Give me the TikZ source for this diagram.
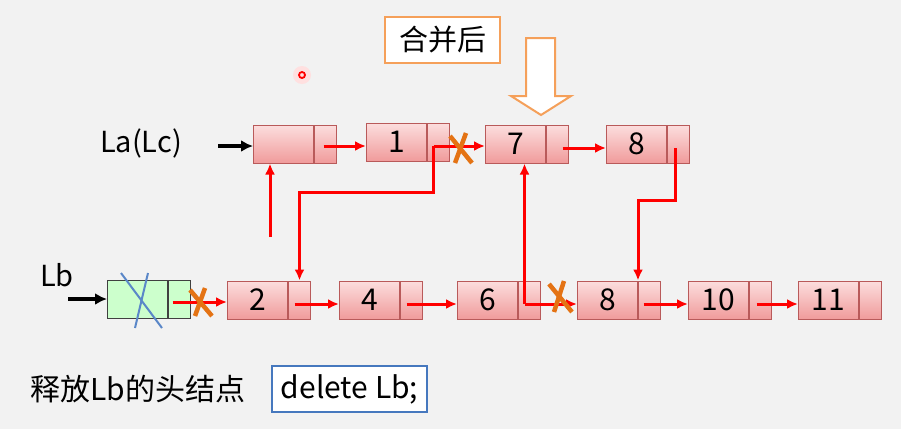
\documentclass[tikz,border=0pt]{standalone}
\usepackage{fontspec}
\setmainfont{Noto Sans CJK SC}
\usetikzlibrary{arrows.meta,calc}
\definecolor{bg}{RGB}{242,242,242}
\definecolor{nodetop}{RGB}{252,222,222}
\definecolor{nodebot}{RGB}{240,155,155}
\definecolor{nodeedge}{RGB}{185,90,90}
\definecolor{greenfill}{RGB}{204,255,204}
\definecolor{crossorange}{RGB}{228,115,20}
\definecolor{boxorange}{RGB}{245,160,90}
\definecolor{boxblue}{RGB}{70,120,190}
\definecolor{xblue}{RGB}{90,135,200}
\definecolor{linkred}{RGB}{255,0,0}
\tikzset{
  lbl/.style={font=\fontsize{29}{31}\selectfont, inner sep=0pt},
  datapart/.style={draw=nodeedge, line width=1pt, top color=nodetop, bottom color=nodebot,
    minimum width=60pt, minimum height=38pt, inner sep=0pt, anchor=west,
    font=\fontsize{30}{32}\selectfont},
  ptrpart/.style={draw=nodeedge, line width=1pt, top color=nodetop, bottom color=nodebot,
    minimum width=22pt, minimum height=38pt, inner sep=0pt, anchor=west},
  gdata/.style={draw=black!75, line width=1pt, fill=greenfill,
    minimum width=60pt, minimum height=38pt, inner sep=0pt, anchor=west},
  gptr/.style={draw=black!75, line width=1pt, fill=greenfill,
    minimum width=22pt, minimum height=38pt, inner sep=0pt, anchor=west},
  ra/.style={draw=linkred, line width=3pt, -{Latex[length=11pt,width=10pt]}},
  ba/.style={draw=black, line width=3.4pt, -{Latex[length=12pt,width=12pt]}},
  ox/.style={draw=crossorange, line width=4.5pt},
  bx/.style={draw=xblue, line width=2pt},
}
\begin{document}
\begin{tikzpicture}[x=1pt,y=-1pt]
\fill[bg] (0,0) rectangle (901,429);
\useasboundingbox (0,0) rectangle (901,429);

% cursor dot
\fill[linkred!12] (302,75) circle (9);
\draw[linkred, line width=1.8pt] (302,75) circle (3);

% title box and block arrow
\node[lbl, draw=boxorange, line width=2pt, fill=white, minimum width=115pt, minimum height=46pt] (title) at (442.5,40) {合并后};
\draw[boxorange, line width=2pt, fill=white, line join=miter]
  (526,38) -- (555,38) -- (555,96) -- (571,96) -- (541,115) -- (511,96) -- (526,96) -- cycle;

% labels
\node[lbl] (la) at (141,143) {La(Lc)};
\node[lbl] (lb) at (57,275) {Lb};

% top row
\node[datapart] (a0) at (253,144) {};
\node[ptrpart] (a0p) at (a0.east) {};
\node[datapart] (a1) at (366,142) {1};
\node[ptrpart] (a1p) at (a1.east) {};
\node[datapart] (a2) at (485,144) {7};
\node[ptrpart] (a2p) at (a2.east) {};
\node[datapart] (a3) at (606,144) {8};
\node[ptrpart] (a3p) at (a3.east) {};

% bottom row
\node[gdata] (b0) at (107,299) {};
\node[gptr] (b0p) at (b0.east) {};
\node[datapart] (b1) at (227,300) {2};
\node[ptrpart] (b1p) at (b1.east) {};
\node[datapart] (b2) at (339,300) {4};
\node[ptrpart] (b2p) at (b2.east) {};
\node[datapart] (b3) at (457,300) {6};
\node[ptrpart] (b3p) at (b3.east) {};
\node[datapart] (b4) at (577,300) {8};
\node[ptrpart] (b4p) at (b4.east) {};
\node[datapart] (b5) at (688,300) {10};
\node[ptrpart] (b5p) at (b5.east) {};
\node[datapart] (b6) at (798,300) {11};
\node[ptrpart] (b6p) at (b6.east) {};

% black head arrows
\coordinate (laS) at (218,146);
\draw[ba] (laS) -- (a0.west |- laS);
\coordinate (lbS) at (68,299);
\draw[ba] (lbS) -- (b0.west |- lbS);

% top row links
\coordinate (s0) at ([xshift=-2pt,yshift=-2pt]a0p.center);
\draw[ra] (s0) -- (a1.west |- s0);
\coordinate (s1) at ([xshift=-5pt,yshift=-4pt]a1p.center);
\draw[ra] (s1) -- (a2.west |- s1);
\coordinate (s2) at ([xshift=5pt,yshift=-4pt]a2p.center);
\draw[ra] (s2) -- (a3.west |- s2);

% node 1 -> node 2 (down)
\draw[ra] (s1) -- (s1 |- 0,192) -| (b1p.north);
% node 8 (top) -> node 8 (bottom)
\coordinate (s3) at ([xshift=-3pt,yshift=-4pt]a3p.center);
\draw[ra] (s3) -- (s3 |- 0,200) -| (b4.north east);
% up arrow into La head
\coordinate (u0) at (270,237);
\draw[ra] (u0) -- (u0 |- a0.south);

% bottom row links
\coordinate (t0) at ([xshift=-7pt,yshift=-3pt]b0p.center);
\draw[ra] (t0) -- (b1.west |- t0);
\coordinate (t1) at ([xshift=-5pt,yshift=-4pt]b1p.center);
\draw[ra] (t1) -- (b2.west |- t1);
\coordinate (t2) at ([xshift=-5pt,yshift=-4pt]b2p.center);
\draw[ra] (t2) -- (b3.west |- t2);
\coordinate (t3) at ([xshift=-5pt,yshift=-4pt]b3p.center);
\draw[ra] (t3) -- (b4.west |- t3);
\draw[ra] (t3) -- (t3 |- a2.south);
\coordinate (t4) at ([xshift=-6pt,yshift=-4pt]b4p.center);
\draw[ra] (t4) -- (b5.west |- t4);
\coordinate (t5) at ([xshift=-4pt,yshift=-4pt]b5p.center);
\draw[ra] (t5) -- (b6.west |- t5);

% blue cross over Lb head
\draw[bx] (121,273) -- (162,328);
\draw[bx] (148,273) -- (135,328);

% orange crosses
\draw[ox] (450,136) -- (472,163);
\draw[ox] (466,133) -- (455,163);
\draw[ox] (190,290) -- (212,316);
\draw[ox] (205,288) -- (195,316);
\draw[ox] (549,284) -- (572,312);
\draw[ox] (564,281) -- (554,312);

% bottom text
\node[lbl, anchor=west, font=\fontsize{30}{32}\selectfont] (free) at (30,389) {释放Lb的头结点};
\node[lbl, draw=boxblue, line width=2pt, fill=white, minimum width=155pt, minimum height=46pt, font=\fontsize{30}{32}\selectfont] (del) at (349.5,389) {delete Lb;};
\end{tikzpicture}
\end{document}
